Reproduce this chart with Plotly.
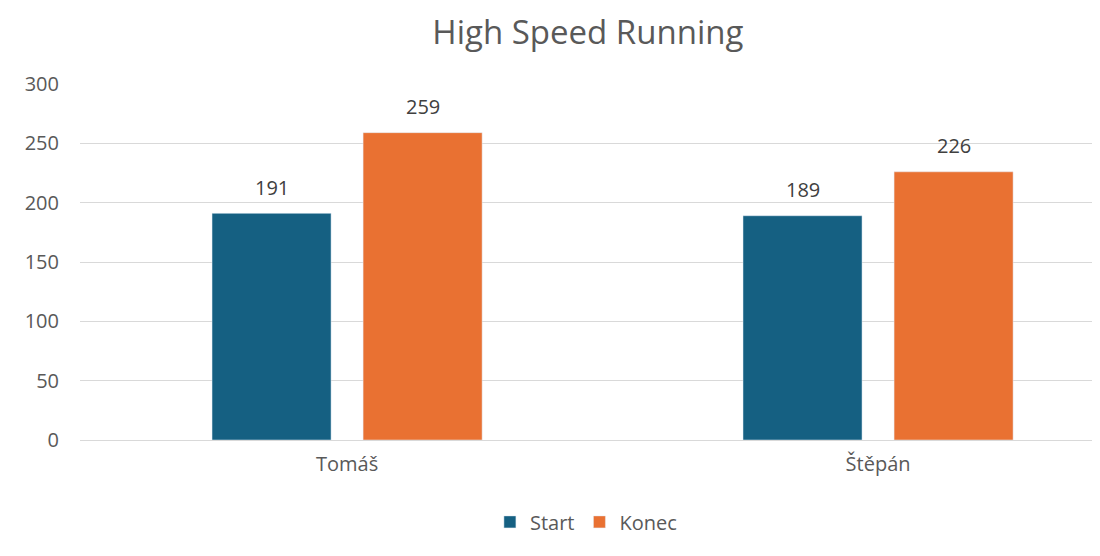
import plotly.graph_objects as go

categories = ["Tomáš", "Štěpán"]
start_vals = [191, 189]
konec_vals = [259, 226]
y_ticks = [0, 50, 100, 150, 200, 250, 300]

FONT = "Open Sans"
TXT = "#595959"
BARGAP = 0.431
BARGROUPGAP = 0.212

fig = go.Figure()
fig.add_trace(go.Bar(x=categories, y=start_vals, name="Start", marker_color="#156082"))
fig.add_trace(go.Bar(x=categories, y=konec_vals, name="Konec", marker_color="#E97132"))

# data labels above each bar (half a bar slot left/right of the category centre)
slot_px = 151
for vals, sign in ((start_vals, -1), (konec_vals, 1)):
    for cat, v in zip(categories, vals):
        fig.add_annotation(
            x=cat, y=v, text=str(v), showarrow=False,
            xshift=sign * slot_px / 2, yshift=26, yanchor="middle",
            font=dict(family=FONT, size=20, color="#404040"),
        )

# page body has an 8px margin, so the figure is sized/placed to compensate
fig.update_layout(
    width=1092, height=540,
    margin=dict(l=72, r=0, t=76, b=108),
    paper_bgcolor="white", plot_bgcolor="white",
    barmode="group", bargap=BARGAP, bargroupgap=BARGROUPGAP,
    title=dict(text="High Speed Running", x=0.531, xanchor="center", y=0.954, yanchor="middle",
               font=dict(family=FONT, size=33, color=TXT)),
    font=dict(family=FONT, size=20, color=TXT),
    legend=dict(orientation="h", x=0.496, xanchor="center", y=-0.23, yanchor="middle",
                font=dict(family=FONT, size=20, color=TXT), itemwidth=30, traceorder="normal"),
)
fig.update_xaxes(
    type="category", range=[-0.503, 1.418], showgrid=False, showline=False,
    ticks="", tickfont=dict(family=FONT, size=20, color=TXT), ticklabelstandoff=10,
    automargin=False,
)
fig.update_yaxes(
    range=[0, 300], tickvals=y_ticks, showgrid=True, gridcolor="#D9D9D9", gridwidth=1,
    zeroline=True, zerolinecolor="#D9D9D9", zerolinewidth=1, showline=False, ticks="",
    tickfont=dict(family=FONT, size=20, color=TXT), ticklabelstandoff=20,
    automargin=False,
)

fig.write_html("out.html")
